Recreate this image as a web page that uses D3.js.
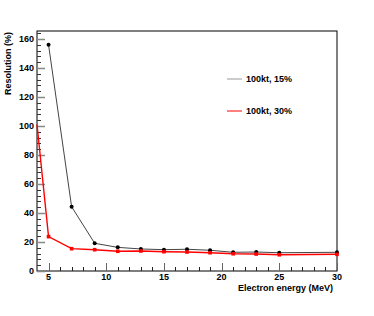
<!DOCTYPE html>
<html>
<head>
<meta charset="utf-8">
<script src="https://cdn.jsdelivr.net/npm/d3@7"></script>
<style>
  body { margin: 0; background: #fff; }
  text { font-family: "Liberation Sans", Arial, sans-serif; font-weight: bold; }
</style>
</head>
<body>
<svg class="chart" width="374" height="316"></svg>
<script>
// energies (MeV)
let energies = [5, 7, 9, 11, 13, 15, 17, 19, 21, 23, 25, 30]
let res15 = [156, 44.3, 19.1, 16.3, 15.2, 14.7, 15, 14.3, 12.9, 13.1, 12.6, 12.9]
let energies30 = [4, 5, 7, 9, 11, 13, 15, 17, 19, 21, 23, 25, 30]
let res30 = [101, 23.7, 15.4, 14.7, 13.6, 13.8, 13.3, 13.1, 12.6, 11.9, 11.7, 11.2, 11.5]
let seriesNames = ['100kt, 15%', '100kt, 30%']
let yTicks = [0, 20, 40, 60, 80, 100, 120, 140, 160]
let xTicks = [5, 10, 15, 20, 25, 30]

let margin = { top: 31, right: 37, bottom: 45, left: 37 }
let width = 374 - margin.left - margin.right
let height = 316 - margin.top - margin.bottom

let svg = d3.select('.chart')
let g = svg.append('g')
    .attr('transform', 'translate(' + margin.left + ',' + margin.top + ')')

let x = d3.scaleLinear().domain([4, 30]).range([0, width])
let y = d3.scaleLinear().domain([0, 165.5]).range([height, 0])

// frame
g.append('rect')
    .attr('width', width).attr('height', height)
    .attr('fill', 'none').attr('stroke', '#000').attr('stroke-width', 1)

// ticks (drawn inside the frame)
let yMinor = d3.range(0, 165, 4)
g.selectAll('.ymin').data(yMinor).enter().append('line')
    .attr('x1', 0).attr('x2', d => d % 20 === 0 ? 8 : 4)
    .attr('y1', d => Math.round(y(d)) + 0.5).attr('y2', d => Math.round(y(d)) + 0.5)
    .attr('stroke', d => d % 20 === 0 ? '#888' : '#333')
    .attr('stroke-width', d => d % 20 === 0 ? 1.5 : 1)

let xMinor = d3.range(5, 31, 1)
g.selectAll('.xmin').data(xMinor).enter().append('line')
    .attr('y1', height).attr('y2', d => height - (d % 5 === 0 ? 8 : 4))
    .attr('x1', d => Math.round(x(d)) + 0.5).attr('x2', d => Math.round(x(d)) + 0.5)
    .attr('stroke', d => d % 5 === 0 ? '#666' : '#222').attr('stroke-width', 1)

// tick labels
g.selectAll('.ylab').data(yTicks).enter().append('text')
    .attr('x', -3).attr('y', d => y(d)).attr('dy', '0.35em')
    .attr('text-anchor', 'end').attr('font-size', 9)
    .text(d => d)

g.selectAll('.xlab').data(xTicks).enter().append('text')
    .attr('x', d => x(d)).attr('y', height + 8.5)
    .attr('text-anchor', 'middle').attr('font-size', 9)
    .text(d => d)

// axis titles
g.append('text')
    .attr('x', width - 4).attr('y', height + 19.5)
    .attr('text-anchor', 'end').attr('font-size', 9)
    .text('Electron energy (MeV)')

g.append('text')
    .attr('transform', 'translate(' + (-26) + ',1) rotate(-90)')
    .attr('text-anchor', 'end').attr('font-size', 9)
    .text('Resolution (%)')

let line = d3.line().x(d => x(d[0])).y(d => y(d[1]))

let data15 = energies.map((e, i) => [e, res15[i]])
let data30 = energies30.map((e, i) => [e, res30[i]])

g.append('path').datum(data15)
    .attr('d', line).attr('fill', 'none')
    .attr('stroke', '#444').attr('stroke-width', 1)

g.append('path').datum(data30)
    .attr('d', line).attr('fill', 'none')
    .attr('stroke', '#ff0000').attr('stroke-width', 1.4)

g.selectAll('.m15').data(data15).enter().append('circle')
    .attr('cx', d => x(d[0])).attr('cy', d => y(d[1])).attr('r', 2)
    .attr('fill', '#000')

g.selectAll('.m30').data(data30.slice(1)).enter().append('rect')
    .attr('x', d => x(d[0]) - 1.8).attr('y', d => y(d[1]) - 1.8)
    .attr('width', 3.6).attr('height', 3.6)
    .attr('fill', '#ff0000')

// legend
let legend = svg.append('g')
let legColors = ['#999', '#ff0000']
let legY = [79, 111]
seriesNames.forEach((name, i) => {
  legend.append('line')
      .attr('x1', 227).attr('x2', 242).attr('y1', legY[i]).attr('y2', legY[i])
      .attr('stroke', legColors[i]).attr('stroke-width', 1)
  legend.append('text')
      .attr('x', 246).attr('y', legY[i]).attr('dy', '0.35em')
      .attr('font-size', 9).text(name)
})
</script>
</body>
</html>
